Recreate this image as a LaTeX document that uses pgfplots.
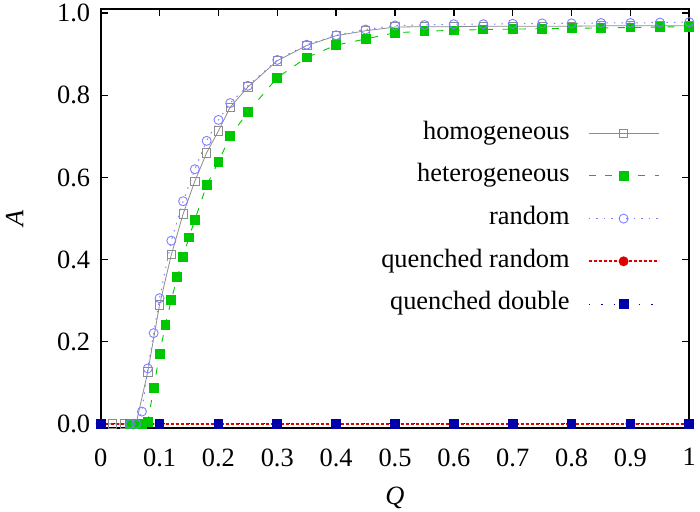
\documentclass[border=0pt]{standalone}
\usepackage{fontspec}
\setmainfont{Liberation Serif}
\usepackage{pgfplots}
\pgfplotsset{compat=1.18}

\definecolor{homo}{RGB}{140,140,140}
\definecolor{hetero}{RGB}{0,200,0}
\definecolor{rnd}{RGB}{128,128,255}
\definecolor{qrnd}{RGB}{220,0,0}
\definecolor{qdbl}{RGB}{0,0,170}

\newcommand{\figfont}{\fontsize{26.5}{31}\selectfont}

\begin{document}
\begin{tikzpicture}
\begin{axis}[
    scale only axis,
    width=588.6bp, height=419bp,
    xmin=0, xmax=1, ymin=-0.01, ymax=1.01,
    xtick={0,0.1,...,1.0},
    ytick={0,0.2,...,1.0},
    yticklabel style={/pgf/number format/fixed, /pgf/number format/fixed zerofill,
        /pgf/number format/precision=1, xshift=-7bp},
    xticklabel style={yshift=-17bp},
    /pgf/number format/assume math mode=true,
    tick label style={font=\figfont},
    label style={font=\figfont},
    xlabel={\textit{Q}}, ylabel={\textit{A}},
    xlabel style={at={(axis description cs:0.5,-0.166)}, anchor=center},
    ylabel style={at={(axis description cs:-0.146,0.5)}, anchor=center},
    axis line style={line width=1.8bp},
    major tick style={line width=1.5bp, black},
    major tick length=7bp,
    tick align=inside,
    clip=false,
    legend plot pos=right,
    legend cell align=right,
    legend image code/.code={\draw[mark repeat=2,mark phase=2]
        plot coordinates {(0bp,0bp) (35bp,0bp) (70bp,0bp)};},
    legend style={draw=none, fill=none, font=\figfont,
        inner xsep=0pt, inner ysep=0pt,
        nodes={inner sep=0pt, text height=18.5bp, text depth=6.6bp},
        row sep=17.6bp, column sep=18bp,
        at={(axis description cs:0.9497,0.734)}, anchor=north east},
]

% homogeneous
\addplot[homo, line width=0.8bp, mark=square, mark size=4.2bp, mark options={solid, line width=0.8bp}]
coordinates {
(0,0) (0.02,0) (0.04,0) (0.06,0) (0.08,0.127) (0.10,0.29) (0.12,0.412)
(0.14,0.511) (0.16,0.591) (0.18,0.66) (0.20,0.713) (0.22,0.771) (0.25,0.82)
(0.30,0.884) (0.35,0.921) (0.40,0.945) (0.45,0.957) (0.50,0.966) (0.55,0.967)
(0.60,0.967) (0.65,0.968) (0.70,0.968) (0.75,0.968) (0.80,0.968) (0.85,0.969)
(0.90,0.969) (0.95,0.969) (1.00,0.969)
};
\addlegendentry{homogeneous}

% heterogeneous
\addplot[hetero, line width=0.9bp, dash pattern=on 7bp off 9.5bp,
    mark=square*, mark size=4.4bp, mark options={solid, fill=hetero}]
coordinates {
(0.05,0) (0.06,0) (0.07,0) (0.08,0.005) (0.09,0.087) (0.10,0.171) (0.11,0.241)
(0.12,0.302) (0.13,0.357) (0.14,0.407) (0.15,0.454) (0.16,0.497) (0.18,0.581)
(0.20,0.638) (0.22,0.70) (0.25,0.759) (0.30,0.843) (0.35,0.892) (0.40,0.922)
(0.45,0.937) (0.50,0.952) (0.55,0.956) (0.60,0.958) (0.65,0.96) (0.70,0.961)
(0.75,0.962) (0.80,0.963) (0.85,0.964) (0.90,0.965) (0.95,0.966) (1.00,0.967)
};
\addlegendentry{heterogeneous}

% random
\addplot[rnd, line width=1bp, dash pattern=on 1.5bp off 6bp,
    mark=o, mark size=4.5bp, mark options={solid, line width=0.9bp}]
coordinates {
(0.05,0) (0.06,0) (0.07,0.03) (0.08,0.135) (0.09,0.221) (0.10,0.306)
(0.12,0.446) (0.14,0.542) (0.16,0.62) (0.18,0.689) (0.20,0.74) (0.22,0.781)
(0.25,0.823) (0.30,0.886) (0.35,0.923) (0.40,0.946) (0.45,0.96) (0.50,0.97)
(0.55,0.971) (0.60,0.973) (0.65,0.973) (0.70,0.974) (0.75,0.975) (0.80,0.975)
(0.85,0.976) (0.90,0.976) (0.95,0.977) (1.00,0.978)
};
\addlegendentry{random}

% quenched random
\addplot[qrnd, line width=1.8bp, dash pattern=on 3bp off 2bp,
    mark=*, mark size=4bp, mark options={solid, fill=qrnd}]
coordinates {
(0,0) (0.1,0) (0.2,0) (0.3,0) (0.4,0) (0.5,0) (0.6,0) (0.7,0) (0.8,0) (0.9,0) (1.0,0)
};
\addlegendentry{quenched random}

% quenched double
\addplot[qdbl, line width=1bp, dash pattern=on 1.5bp off 11bp,
    mark=square*, mark size=4.4bp, mark options={solid, fill=qdbl}]
coordinates {
(0,0) (0.1,0) (0.2,0) (0.3,0) (0.4,0) (0.5,0) (0.6,0) (0.7,0) (0.8,0) (0.9,0) (1.0,0)
};
\addlegendentry{quenched double}

% red line is drawn over the blue squares in the reference
\addplot[qrnd, line width=1.8bp, dash pattern=on 3bp off 2bp, no marks, forget plot]
coordinates {(0,0) (1.0,0)};
\end{axis}
\path (current axis.south west) ++(-100.7bp,-82bp) coordinate (bl);
\path (current axis.north east) ++(10.7bp,9bp) coordinate (tr);
\path (bl) rectangle (tr);
\end{tikzpicture}
\end{document}
